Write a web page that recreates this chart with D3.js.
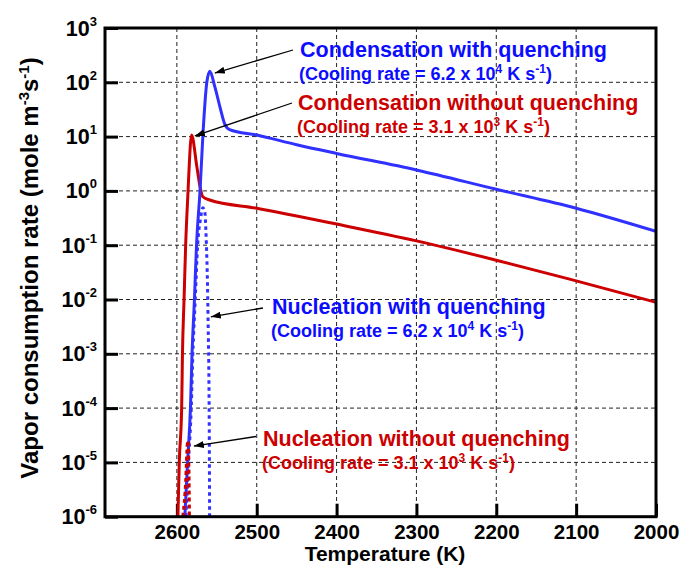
<!DOCTYPE html>
<html>
<head>
<meta charset="utf-8">
<script src="https://cdn.jsdelivr.net/npm/d3@7"></script>
<style>
body { margin: 0; background: #fff; }
text { font-family: "Liberation Sans", Arial, sans-serif; font-weight: bold; }
</style>
</head>
<body>
<script>
// temperature (K) and vapor consumption rate (mole m-3 s-1)
var condQuenchT = [2590, 2586.6, 2583, 2581, 2578, 2575.4, 2571, 2567.5, 2562.5, 2558.7, 2552.5, 2546, 2540, 2534, 2500, 2450, 2400, 2300, 2200, 2100, 2000];
var condQuenchRate = [1e-6, 1e-5, 1e-4, 1e-3, 1e-2, 1e-1, 1, 10, 100, 160, 83, 35, 17, 13.5, 10.7, 7.1, 4.9, 2.43, 1.07, 0.48, 0.18];

var condNoQuenchT = [2598.7, 2597, 2594, 2593, 2591, 2589, 2586, 2585, 2581.6, 2575, 2571, 2567.5, 2559, 2500, 2400, 2300, 2200, 2100, 2000];
var condNoQuenchRate = [1e-6, 1e-5, 1e-4, 1e-3, 1e-2, 1e-1, 1, 2.1, 10.7, 2.8, 1.2, 0.78, 0.68, 0.48, 0.245, 0.12, 0.053, 0.022, 0.0089];

var nuclQuenchT = [2588.6, 2585.5, 2582, 2580, 2577, 2574, 2570.5, 2567.5, 2565, 2563.7, 2561, 2559.5, 2559];
var nuclQuenchRate = [1e-6, 1e-5, 1e-4, 1e-3, 1e-2, 1e-1, 0.3, 0.49, 0.41, 0.19, 5e-3, 6e-5, 1e-6];

var nuclNoQuenchT = [2592.5, 2588.75, 2586.9, 2586.25, 2585, 2584.4];
var nuclNoQuenchRate = [1e-6, 4.8e-6, 2.1e-5, 2.5e-5, 7.2e-6, 1e-6];

// axis ticks
var xTicks = [2600, 2500, 2400, 2300, 2200, 2100, 2000];
var yExps = [3, 2, 1, 0, -1, -2, -3, -4, -5, -6];

// annotations: label, cooling rate, exponent, and where the arrow points (T, rate)
var annoTitles = ["Condensation with quenching", "Condensation without quenching", "Nucleation with quenching", "Nucleation without quenching"];
var annoRates = ["6.2", "3.1", "6.2", "3.1"];
var annoExps = ["4", "3", "4", "3"];
var annoTipT = [2552.5, 2577.5, 2557.5, 2578.75];
var annoTipRate = [148, 10.3, 4.8e-3, 2e-5];

window.onload = drawChart();

function drawChart() {
    var width = 684,
        height = 566;

    var plotLeft = 105, plotRight = 656, plotTop = 28, plotBottom = 516.7;

    var blueLine = "#3030ff", redLine = "#cc0000",
        blueText = "#0c0cff", redText = "#cc0000";

    var svg = d3.select("body")
        .append("svg")
        .attr("width", width)
        .attr("height", height);

    var x = d3.scaleLinear()
        .domain([2690, 2000])
        .range([plotLeft, plotRight]);

    var y = d3.scaleLog()
        .domain([1e-6, 1e3])
        .range([plotBottom, plotTop]);

    // dashed grid
    var gridX = xTicks.filter(function(d) { return d > 2000; });
    var gridY = yExps.filter(function(e) { return e < 3 && e > -6; });

    svg.append("g").selectAll("line")
        .data(gridX)
        .enter()
        .append("line")
        .attr("x1", function(d) { return x(d); })
        .attr("x2", function(d) { return x(d); })
        .attr("y1", plotTop)
        .attr("y2", plotBottom)
        .style("stroke", "#222")
        .style("stroke-width", 1)
        .style("stroke-dasharray", "4,3");

    svg.append("g").selectAll("line")
        .data(gridY)
        .enter()
        .append("line")
        .attr("x1", plotLeft)
        .attr("x2", plotRight)
        .attr("y1", function(e) { return y(Math.pow(10, e)); })
        .attr("y2", function(e) { return y(Math.pow(10, e)); })
        .style("stroke", "#222")
        .style("stroke-width", 1)
        .style("stroke-dasharray", "4,3");

    // bottom axis, ticks pointing inward
    var xAxis = svg.append("g")
        .attr("transform", "translate(0," + plotBottom + ")")
        .call(d3.axisBottom(x)
            .tickValues(xTicks)
            .tickSize(-13)
            .tickPadding(8)
            .tickFormat(d3.format("d")));

    xAxis.select(".domain").remove();
    xAxis.selectAll(".tick line").style("stroke", "#000").style("stroke-width", 3);
    xAxis.selectAll(".tick text")
        .attr("y", 8)
        .style("font-size", "20.5px")
        .style("font-family", "'Liberation Sans', Arial, sans-serif")
        .style("font-weight", "bold")
        .style("fill", "#000");

    // left axis, labels built by hand for the superscripts
    var yAxis = svg.append("g")
        .attr("transform", "translate(" + plotLeft + ",0)")
        .call(d3.axisLeft(y)
            .tickValues(yExps.map(function(e) { return Math.pow(10, e); }))
            .tickSize(-13)
            .tickFormat(""));

    yAxis.select(".domain").remove();
    yAxis.selectAll(".tick line").style("stroke", "#000").style("stroke-width", 3);

    var yLabels = svg.append("g").selectAll("text")
        .data(yExps)
        .enter()
        .append("text")
        .attr("x", 97)
        .attr("y", function(e) { return y(Math.pow(10, e)) + 7.5; })
        .attr("text-anchor", "end")
        .style("font-size", "21.5px")
        .style("fill", "#000");

    yLabels.append("tspan").text("10");
    yLabels.append("tspan")
        .attr("dy", -10)
        .style("font-size", "13px")
        .text(function(e) { return e; });

    // curves
    svg.append("clipPath")
        .attr("id", "plotClip")
        .append("rect")
        .attr("x", plotLeft)
        .attr("y", plotTop)
        .attr("width", plotRight - plotLeft)
        .attr("height", plotBottom - plotTop);

    var line = d3.line()
        .x(function(d) { return x(d[0]); })
        .y(function(d) { return y(d[1]); })
        .curve(d3.curveMonotoneX);

    function pairs(ts, vs) {
        return ts.map(function(t, i) { return [t, vs[i]]; });
    }

    var curves = svg.append("g").attr("clip-path", "url(#plotClip)");

    curves.append("path")
        .datum(pairs(nuclQuenchT, nuclQuenchRate))
        .attr("d", line)
        .style("fill", "none")
        .style("stroke", blueLine)
        .style("stroke-width", 3)
        .style("stroke-dasharray", "3.5,3.5");

    curves.append("path")
        .datum(pairs(condNoQuenchT, condNoQuenchRate))
        .attr("d", line)
        .style("fill", "none")
        .style("stroke", redLine)
        .style("stroke-width", 3);

    curves.append("path")
        .datum(pairs(condQuenchT, condQuenchRate))
        .attr("d", line)
        .style("fill", "none")
        .style("stroke", blueLine)
        .style("stroke-width", 3);

    curves.append("path")
        .datum(pairs(nuclNoQuenchT, nuclNoQuenchRate))
        .attr("d", line)
        .style("fill", "none")
        .style("stroke", redLine)
        .style("stroke-width", 3.2)
        .style("stroke-dasharray", "4,3");

    // frame
    svg.append("rect")
        .attr("x", plotLeft)
        .attr("y", plotTop)
        .attr("width", plotRight - plotLeft)
        .attr("height", plotBottom - plotTop)
        .style("fill", "none")
        .style("stroke", "#000")
        .style("stroke-width", 3);

    // axis titles
    svg.append("text")
        .attr("x", 385)
        .attr("y", 561)
        .attr("text-anchor", "middle")
        .style("font-size", "21px")
        .style("fill", "#000")
        .text("Temperature (K)");

    var yTitle = svg.append("text")
        .attr("transform", "translate(38,268) rotate(-90)")
        .attr("text-anchor", "middle")
        .style("font-size", "24px")
        .style("fill", "#000");
    yTitle.append("tspan").text("Vapor consumption rate (mole m");
    yTitle.append("tspan").attr("dy", -9).style("font-size", "15px").text("-3");
    yTitle.append("tspan").attr("dy", 9).text("s");
    yTitle.append("tspan").attr("dy", -9).style("font-size", "15px").text("-1");
    yTitle.append("tspan").attr("dy", 9).text(")");

    // annotations
    svg.append("defs").append("marker")
        .attr("id", "arrowhead")
        .attr("viewBox", "0 0 10 7")
        .attr("refX", 10)
        .attr("refY", 3.5)
        .attr("markerWidth", 10)
        .attr("markerHeight", 7)
        .attr("markerUnits", "userSpaceOnUse")
        .attr("orient", "auto")
        .append("path")
        .attr("d", "M0,0 L10,3.5 L0,7 Z")
        .style("fill", "#000");

    // label placement (left edge, first baseline) and arrow tails, in pixels
    var annoLayout = [
        { lx: 300, ly: 56.5, tx: 293, ty: 50, color: blueText },
        { lx: 298, ly: 110, tx: 292, ty: 103, color: redText },
        { lx: 272, ly: 314, tx: 263, ty: 308, color: blueText },
        { lx: 263, ly: 446, tx: 256, ty: 436.5, color: redText }
    ];

    annoTitles.forEach(function(title, i) {
        var p = annoLayout[i];

        svg.append("line")
            .attr("x1", p.tx)
            .attr("y1", p.ty)
            .attr("x2", x(annoTipT[i]))
            .attr("y2", y(annoTipRate[i]))
            .style("stroke", "#000")
            .style("stroke-width", 1.3)
            .attr("marker-end", "url(#arrowhead)");

        svg.append("text")
            .attr("x", p.lx)
            .attr("y", p.ly)
            .style("font-size", "21.5px")
            .style("fill", p.color)
            .text(title);

        var sub = svg.append("text")
            .attr("x", p.lx - 1)
            .attr("y", p.ly + 23)
            .style("font-size", "18px")
            .style("fill", p.color);
        sub.append("tspan").text("(Cooling rate = " + annoRates[i] + " x 10");
        sub.append("tspan").attr("dy", -7).style("font-size", "12px").text(annoExps[i]);
        sub.append("tspan").attr("dy", 7).text(" K s");
        sub.append("tspan").attr("dy", -7).style("font-size", "12px").text("-1");
        sub.append("tspan").attr("dy", 7).text(")");
    });
}
</script>
</body>
</html>
